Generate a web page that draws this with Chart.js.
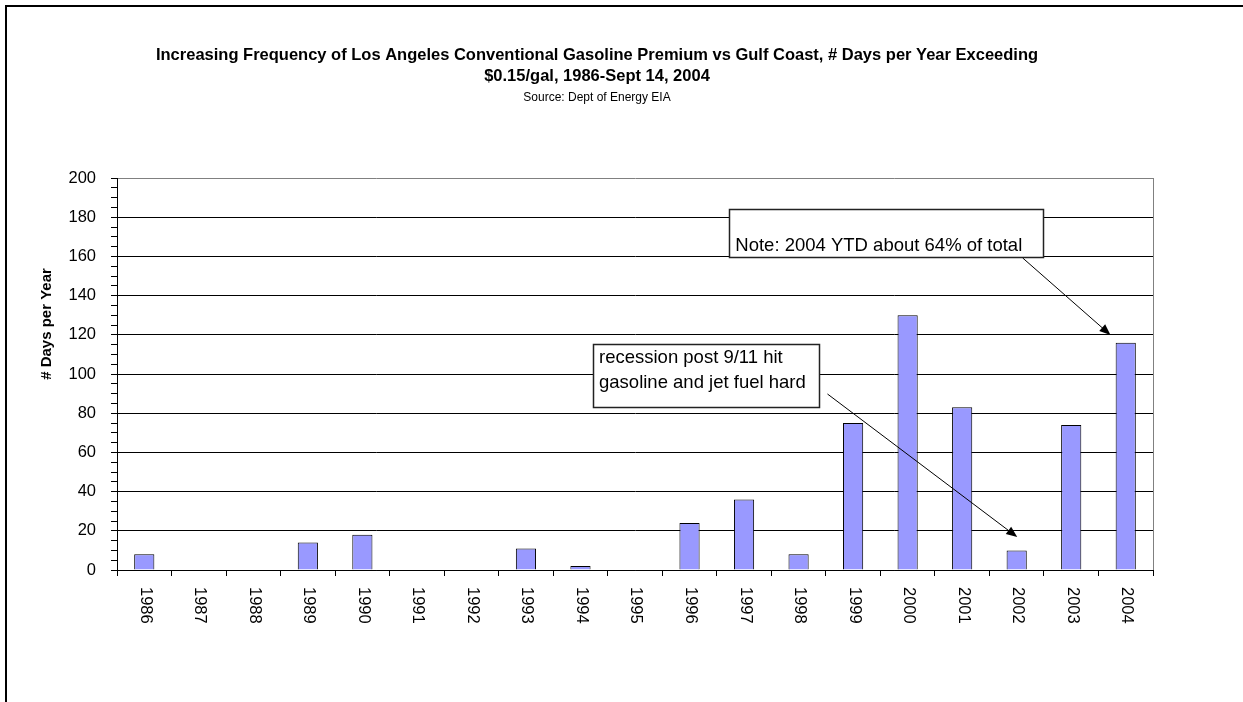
<!DOCTYPE html>
<html>
<head>
<meta charset="utf-8">
<script src="https://cdn.jsdelivr.net/npm/chart.js@4.4.1/dist/chart.umd.min.js"></script>
<style>
  html, body { margin: 0; padding: 0; background: #ffffff; }
  #wrap { width: 1243px; height: 702px; position: relative; }
</style>
</head>
<body>
<div id="wrap"><canvas id="chart" width="1243" height="702"></canvas></div>
<script>
// ---- data ----
const years = ['1986','1987','1988','1989','1990','1991','1992','1993','1994','1995',
               '1996','1997','1998','1999','2000','2001','2002','2003','2004'];
const daysExceeding = [8, 0, 0, 14, 18, 0, 0, 11, 2, 0, 24, 36, 8, 75, 130, 83, 10, 74, 116];

// value axis: range, labelled step and small tick step
const yRange = [0, 200];
const yMajorStep = 20;
const yMinorStep = 5;

// texts
const titleLines = [
  'Increasing Frequency of Los Angeles Conventional Gasoline Premium vs Gulf Coast, # Days per Year Exceeding',
  '$0.15/gal, 1986-Sept 14, 2004'
];
const sourceLine = 'Source: Dept of Energy EIA';
const yAxisTitle = '# Days per Year';

// callouts, placed in data space: x = category index, y = days
const noteLines = ['Note: 2004 YTD about 64% of total'];
const noteBox = { x0: 10.73, x1: 16.49, yTop: 184.2, yBottom: 159.7 };
const noteArrow = { from: [16.11, 159.2], to: [17.72, 119.9] };

const recessionLines = ['recession post 9/11 hit', 'gasoline and jet fuel hard'];
const recessionBox = { x0: 8.23, x1: 12.38, yTop: 115.3, yBottom: 83.2 };
const recessionArrow = { from: [12.53, 89.8], to: [16.01, 16.8] };

// ---- drawing ----
const FONT = "'Liberation Sans', Arial, Helvetica, sans-serif";
Chart.defaults.font.family = FONT;
Chart.defaults.color = '#000';

function toPx(chart, xv, yv) {
  return [chart.scales.x.getPixelForValue(xv), chart.scales.y.getPixelForValue(yv)];
}

function drawArrow(ctx, chart, arrow) {
  const [x0, y0] = toPx(chart, arrow.from[0], arrow.from[1]);
  const [x1, y1] = toPx(chart, arrow.to[0], arrow.to[1]);
  const ang = Math.atan2(y1 - y0, x1 - x0);
  const len = 11, half = 4.5;
  ctx.save();
  ctx.strokeStyle = '#000';
  ctx.fillStyle = '#000';
  ctx.lineWidth = 1;
  ctx.beginPath();
  ctx.moveTo(x0, y0);
  ctx.lineTo(x1 - Math.cos(ang) * len * 0.8, y1 - Math.sin(ang) * len * 0.8);
  ctx.stroke();
  ctx.beginPath();
  ctx.moveTo(x1, y1);
  ctx.lineTo(x1 - Math.cos(ang) * len - Math.sin(ang) * half, y1 - Math.sin(ang) * len + Math.cos(ang) * half);
  ctx.lineTo(x1 - Math.cos(ang) * len + Math.sin(ang) * half, y1 - Math.sin(ang) * len - Math.cos(ang) * half);
  ctx.closePath();
  ctx.fill();
  ctx.restore();
}

function drawCallout(ctx, chart, box, lines, firstBaseline, lineGap) {
  const [xa, ya] = toPx(chart, box.x0, box.yTop);
  const [xb, yb] = toPx(chart, box.x1, box.yBottom);
  ctx.save();
  ctx.fillStyle = '#fff';
  ctx.fillRect(xa, ya, xb - xa, yb - ya);
  ctx.strokeStyle = '#222';
  ctx.lineWidth = 1.5;
  ctx.strokeRect(Math.round(xa) + 0.5, Math.round(ya) + 0.5, Math.round(xb - xa), Math.round(yb - ya));
  ctx.fillStyle = '#000';
  ctx.font = '18.5px ' + FONT;
  ctx.textAlign = 'left';
  ctx.textBaseline = 'alphabetic';
  lines.forEach((t, i) => ctx.fillText(t, xa + 6, ya + firstBaseline + i * lineGap));
  ctx.restore();
}

const decorations = {
  id: 'decorations',
  beforeDraw(chart) {
    const ctx = chart.ctx;
    ctx.save();
    ctx.fillStyle = '#fff';
    ctx.fillRect(0, 0, chart.width, chart.height);
    // page frame
    ctx.strokeStyle = '#000';
    ctx.lineWidth = 2;
    ctx.beginPath();
    ctx.moveTo(6, chart.height);
    ctx.lineTo(6, 6);
    ctx.lineTo(chart.width, 6);
    ctx.stroke();
    // headings
    ctx.fillStyle = '#000';
    ctx.textAlign = 'center';
    ctx.textBaseline = 'middle';
    ctx.font = 'bold 16.5px ' + FONT;
    ctx.fillText(titleLines[0], 597, 55);
    ctx.fillText(titleLines[1], 597, 76);
    ctx.font = '12px ' + FONT;
    ctx.fillText(sourceLine, 597, 98);
    // value axis title
    ctx.save();
    ctx.translate(47, 324);
    ctx.rotate(-Math.PI / 2);
    ctx.font = 'bold 15px ' + FONT;
    ctx.fillText(yAxisTitle, 0, 0);
    ctx.restore();
    ctx.restore();
  },
  beforeDatasetsDraw(chart) {
    const { ctx, chartArea } = chart;
    ctx.save();
    ctx.strokeStyle = '#808080';
    ctx.lineWidth = 1;
    ctx.beginPath();
    ctx.moveTo(Math.round(chartArea.right) + 0.5, chartArea.top);
    ctx.lineTo(Math.round(chartArea.right) + 0.5, chartArea.bottom);
    ctx.stroke();
    ctx.restore();
  },
  afterDraw(chart) {
    const ctx = chart.ctx;
    // rotated category labels, reading downward
    const xs = chart.scales.x;
    ctx.save();
    ctx.fillStyle = '#000';
    ctx.font = '16.5px ' + FONT;
    ctx.textAlign = 'left';
    ctx.textBaseline = 'middle';
    years.forEach((lab, i) => {
      ctx.save();
      ctx.translate(xs.getPixelForValue(i) + 1, xs.top + 17);
      ctx.rotate(Math.PI / 2);
      ctx.fillText(lab, 0, 0);
      ctx.restore();
    });
    ctx.restore();
    drawCallout(ctx, chart, noteBox, noteLines, 42, 25);
    drawArrow(ctx, chart, noteArrow);
    drawCallout(ctx, chart, recessionBox, recessionLines, 19, 25);
    drawArrow(ctx, chart, recessionArrow);
  }
};

new Chart(document.getElementById('chart'), {
  type: 'bar',
  data: {
    labels: years,
    datasets: [{
      data: daysExceeding,
      backgroundColor: '#9999FF',
      borderColor: '#000',
      borderWidth: 1,
      barPercentage: 0.37,
      categoryPercentage: 1.0
    }]
  },
  options: {
    responsive: false,
    animation: false,
    events: [],
    layout: { padding: { left: 0, right: 90, top: 178, bottom: 72 } },
    plugins: { legend: { display: false }, tooltip: { enabled: false }, title: { display: false } },
    scales: {
      x: {
        offset: true,
        afterFit(s) { s.height = 60; },
        grid: { offset: true, drawOnChartArea: false, drawTicks: true, tickLength: 6, color: '#000' },
        border: { color: '#000', width: 1 },
        ticks: { display: false }
      },
      y: {
        min: yRange[0],
        max: yRange[1],
        afterFit(s) { s.width = 117; },
        ticks: {
          stepSize: yMinorStep,
          autoSkip: false,
          padding: 15,
          color: '#000',
          font: { size: 16.5 },
          callback: v => (v % yMajorStep === 0 ? String(v) : '')
        },
        grid: {
          color: ctx => {
            const v = ctx.tick ? ctx.tick.value : 0;
            if (v === yRange[1]) return '#808080';
            return v % yMajorStep === 0 ? '#000' : 'rgba(0,0,0,0)';
          },
          tickColor: '#000',
          tickLength: 6,
          lineWidth: 1
        },
        border: { color: '#000', width: 1 }
      }
    }
  },
  plugins: [decorations]
});
</script>
</body>
</html>
